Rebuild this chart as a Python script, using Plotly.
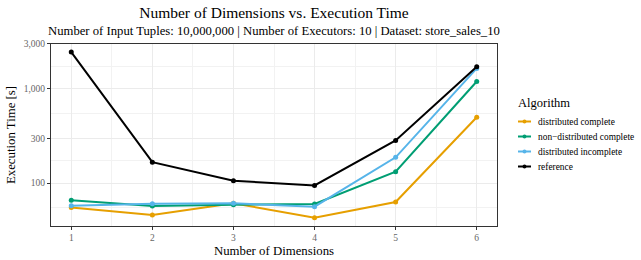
import plotly.graph_objects as go

dims = [1, 2, 3, 4, 5, 6]
series_names = ["distributed complete", "non\u2212distributed complete", "distributed incomplete", "reference"]
dist_complete = [55, 45.8, 61, 43, 63, 500]
nondist_complete = [66, 57.3, 59, 60, 132, 1200]
dist_incomplete = [57.7, 60.5, 61, 56.3, 188, 1650]
reference = [2460, 167, 106, 94.5, 284, 1720]
colors = ["#E69F00", "#009E73", "#56B4E9", "#000000"]
y_ticks = [100, 300, 1000, 3000]
y_ticktext = ["100", "300", "1,000", "3,000"]
y_minor = [54.77, 173.2, 547.7, 1732]
x_minor = [1.5, 2.5, 3.5, 4.5, 5.5]

FONT = "Liberation Serif"
W, H = 641, 260
L, R, T, B = 51, 497, 44, 226
PW, PH = R - L, B - T


def px(x):
    return (x - L) / PW


def py(y):
    return (B - y) / PH


fig = go.Figure()
for name, vals, c in zip(series_names, [dist_complete, nondist_complete, dist_incomplete, reference], colors):
    fig.add_trace(go.Scatter(x=dims, y=vals, name=name, mode="lines+markers", showlegend=False,
                             line=dict(color=c, width=2), marker=dict(color=c, size=5)))

fig.update_layout(
    width=W, height=H,
    margin=dict(l=L, r=W - R, t=T, b=H - B, autoexpand=False),
    paper_bgcolor="white", plot_bgcolor="white",
    font=dict(family=FONT, color="black"),
    title=dict(text="Number of Dimensions vs. Execution Time", x=(L + R) / 2 / W, xanchor="center",
               y=1 - 13 / H, yanchor="middle", yref="container", font=dict(size=15.5, family=FONT)),
    showlegend=False,
)
fig.add_annotation(text="Number of Input Tuples: 10,000,000 | Number of Executors: 10 | Dataset: store_sales_10",
                   xref="paper", yref="paper", x=0.5, y=py(31), xanchor="center", yanchor="middle",
                   showarrow=False, font=dict(size=12.7, family=FONT))

# custom legend (ggplot style)
fig.add_annotation(text="Algorithm", xref="paper", yref="paper", x=px(515.5), y=py(102.5),
                   xanchor="left", yanchor="middle", showarrow=False, font=dict(size=12.5, family=FONT))
leg_y = [121.5, 136.5, 151.5, 166.5]
for name, c, ly in zip(series_names, colors, leg_y):
    fig.add_shape(type="line", xref="paper", yref="paper", x0=px(518), x1=px(531), y0=py(ly), y1=py(ly),
                  line=dict(color=c, width=2))
    fig.add_shape(type="circle", xref="paper", yref="paper", x0=px(522.5), x1=px(526.5),
                  y0=py(ly + 2), y1=py(ly - 2), line=dict(color=c, width=0), fillcolor=c)
    fig.add_annotation(text=name, xref="paper", yref="paper", x=px(536), y=py(ly),
                       xanchor="left", yanchor="middle", showarrow=False, font=dict(size=9.4, family=FONT))

fig.update_xaxes(range=[0.75, 6.25], tickvals=dims, ticktext=[str(d) for d in dims],
                 showgrid=True, gridcolor="#ebebeb", gridwidth=1,
                 minor=dict(tickvals=x_minor, showgrid=True, gridcolor="#f2f2f2", gridwidth=0.8, ticklen=0),
                 ticks="outside", ticklen=3, tickcolor="#333333", tickfont=dict(size=9.5, color="#666666"),
                 showline=True, linecolor="#333333", linewidth=1, mirror=True, zeroline=False, automargin=False,
                 title=dict(text="Number of Dimensions", font=dict(size=12.8), standoff=3))
fig.update_yaxes(type="log", range=[1.545, 3.477], tickvals=y_ticks, ticktext=y_ticktext,
                 showgrid=True, gridcolor="#ebebeb", gridwidth=1,
                 minor=dict(tickvals=y_minor, showgrid=True, gridcolor="#f2f2f2", gridwidth=0.8, ticklen=0),
                 ticks="outside", ticklen=3, tickcolor="#333333", tickfont=dict(size=9.5, color="#666666"),
                 showline=True, linecolor="#333333", linewidth=1, mirror=True, zeroline=False, automargin=False,
                 title=dict(text="Execution Time [s]", font=dict(size=12.8), standoff=5))

fig.write_html("out.html", config={"displayModeBar": False},
               post_script="document.body.style.margin='0';document.body.style.padding='0';")
